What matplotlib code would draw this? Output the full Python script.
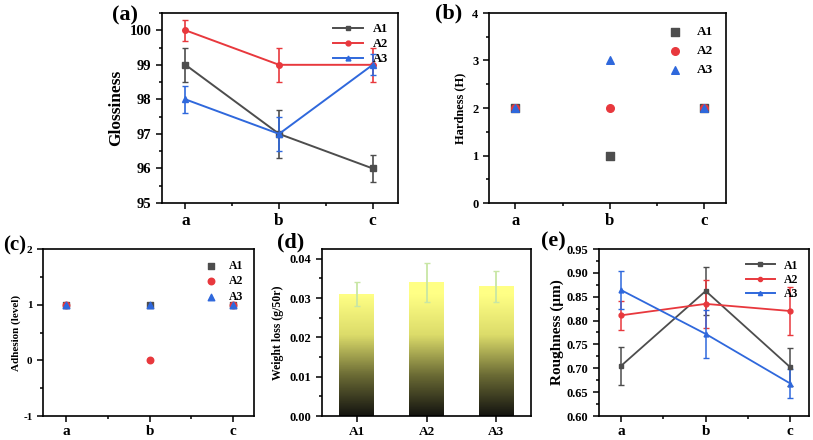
import numpy as np
import matplotlib
matplotlib.use('Agg')
import matplotlib.pyplot as plt
from matplotlib.colors import LinearSegmentedColormap
from matplotlib.ticker import AutoMinorLocator, MultipleLocator
from matplotlib.lines import Line2D

plt.rcParams['font.family'] = 'Liberation Serif'
plt.rcParams['font.weight'] = 'bold'
plt.rcParams['axes.labelweight'] = 'bold'
plt.rcParams['axes.linewidth'] = 1.2
plt.rcParams['axes.unicode_minus'] = False

groups = ['a', 'b', 'c']
series = ['A1', 'A2', 'A3']
colors = ['#4d4d4d', '#e8383d', '#2f68dc']
markers = ['s', 'o', '^']

# (a) glossiness
gloss = [[99, 97, 96], [100, 99, 99], [98, 97, 99]]
gloss_err = [[0.5, 0.7, 0.4], [0.3, 0.5, 0.5], [0.4, 0.5, 0.3]]
# (b) hardness
hard = [[2, 1, 2], [2, 2, 2], [2, 3, 2]]
# (c) adhesion
adh = [[1, 1, 1], [1, 0, 1], [1, 1, 1]]
# (d) weight loss
wl = [0.031, 0.034, 0.033]
wl_err = [0.003, 0.005, 0.004]
# (e) roughness
rough = [[0.705, 0.862, 0.702], [0.811, 0.835, 0.820], [0.864, 0.772, 0.668]]
rough_err = [[0.04, 0.05, 0.04], [0.03, 0.05, 0.05], [0.04, 0.05, 0.03]]

fig = plt.figure(figsize=(8.13, 4.40), dpi=100)
W, H = 813, 440


def box(l, r, t, b):
    return [l / W, 1 - b / H, (r - l) / W, (b - t) / H]


def style(ax, yfs, xfs, xpad=3.5):
    ax.tick_params(which='both', direction='out', top=False, right=False, width=1.1)
    ax.tick_params(axis='y', labelsize=yfs)
    ax.tick_params(axis='x', labelsize=xfs, pad=xpad)
    ax.tick_params(which='major', length=4)
    ax.tick_params(which='minor', length=2)
    ax.yaxis.set_minor_locator(AutoMinorLocator(2))


def line_handles(ms):
    return [Line2D([], [], color=colors[i], marker=markers[i], ms=ms, lw=1.4) for i in range(3)]


x = np.arange(3)

# (a)
ax = fig.add_axes(box(162, 398, 13, 203))
for i in range(3):
    ax.errorbar(x, gloss[i], yerr=gloss_err[i], color=colors[i], marker=markers[i],
                ms=4, lw=1.4, capsize=2.5, elinewidth=1.2)
ax.set_xlim(-0.25, 2.27)
ax.set_ylim(95, 100.5)
ax.set_xticks(x)
ax.set_xticklabels(groups)
ax.xaxis.set_minor_locator(MultipleLocator(0.5))
ax.set_ylabel('Glossiness', fontsize=12.5)
style(ax, 10.5, 12.5)
ax.legend(line_handles(3.5), series, loc='upper right', frameon=False, fontsize=9,
          handlelength=2.4, labelspacing=0.25, borderaxespad=0.4)
fig.text(138 / W, 1 - 20 / H, '(a)', fontsize=16, ha='right', va='baseline')

# (b)
ax = fig.add_axes(box(489, 726, 13, 203))
for i in range(3):
    ax.scatter(x, hard[i], color=colors[i], marker=markers[i], s=30, label=series[i], zorder=3)
ax.set_xlim(-0.28, 2.23)
ax.set_ylim(0, 4)
ax.set_yticks([0, 1, 2, 3, 4])
ax.set_xticks(x)
ax.set_xticklabels(groups)
ax.xaxis.set_minor_locator(MultipleLocator(0.5))
ax.set_ylabel('Hardness (H)', fontsize=9)
style(ax, 9, 12)
ax.legend(loc='upper right', frameon=False, fontsize=9.5, handletextpad=0.6,
          labelspacing=0.5, borderaxespad=0.6)
fig.text(462 / W, 1 - 18 / H, '(b)', fontsize=16, ha='right', va='baseline')

# (c)
ax = fig.add_axes(box(43, 254, 249, 416))
for i in range(3):
    ax.scatter(x, adh[i], color=colors[i], marker=markers[i], s=22, label=series[i], zorder=3)
ax.set_xlim(-0.275, 2.25)
ax.set_ylim(-1, 2)
ax.set_yticks([-1, 0, 1, 2])
ax.set_xticks(x)
ax.set_xticklabels(groups)
ax.xaxis.set_minor_locator(MultipleLocator(0.5))
ax.set_ylabel('Adhesion (level)', fontsize=8)
ax.yaxis.labelpad = 2
style(ax, 8, 11, 2.5)
ax.legend(loc='upper right', frameon=False, fontsize=8.5, handletextpad=0.5,
          labelspacing=0.3, borderaxespad=0.5)
fig.text(26 / W, 1 - 250 / H, '(c)', fontsize=15, ha='right', va='baseline')

# (d)
ax = fig.add_axes(box(322, 531, 249, 416))
cmap = LinearSegmentedColormap.from_list('by', ['#141410', '#6b6b35', '#dcdc6a', '#ffff85'])
bw = 0.5
for i, v in enumerate(wl):
    grad = np.linspace(0, v, 200).reshape(-1, 1)
    ax.imshow(grad, extent=[i - bw / 2, i + bw / 2, 0, v], origin='lower', cmap=cmap,
              vmin=0, vmax=0.031, aspect='auto', zorder=2)
ax.errorbar(x, wl, yerr=wl_err, fmt='none', ecolor='#c8e6a5', elinewidth=1.3,
            capsize=2.5, zorder=3)
ax.set_xlim(-0.5, 2.5)
ax.set_ylim(0, 0.0425)
ax.set_yticks([0, 0.01, 0.02, 0.03, 0.04])
ax.set_yticklabels(['0.00', '0.01', '0.02', '0.03', '0.04'])
ax.set_xticks(x)
ax.set_xticklabels(series)
ax.set_ylabel('Weight loss (g/50r)', fontsize=8.5)
style(ax, 9, 9.5, 3)
fig.text(304 / W, 1 - 247 / H, '(d)', fontsize=16, ha='right', va='baseline')

# (e)
ax = fig.add_axes(box(599, 809, 249, 416))
for i in range(3):
    ax.errorbar(x, rough[i], yerr=rough_err[i], color=colors[i], marker=markers[i],
                ms=3.5, lw=1.3, capsize=2, elinewidth=1.1)
ax.set_xlim(-0.26, 2.22)
ax.set_ylim(0.60, 0.95)
ax.set_yticks(np.arange(0.60, 0.951, 0.05))
ax.set_yticklabels(['%.2f' % t for t in np.arange(0.60, 0.951, 0.05)])
ax.set_xticks(x)
ax.set_xticklabels(groups)
ax.xaxis.set_minor_locator(MultipleLocator(0.5))
ax.set_ylabel('Roughness (μm)', fontsize=11)
ax.yaxis.labelpad = 2
style(ax, 9, 11, 2.5)
ax.legend(line_handles(3), series, loc='upper right', frameon=False, fontsize=8.5,
          handlelength=2.4, labelspacing=0.2, borderaxespad=0.5)
fig.text(566 / W, 1 - 246 / H, '(e)', fontsize=16, ha='right', va='baseline')

fig.savefig('out.png', dpi=100)
